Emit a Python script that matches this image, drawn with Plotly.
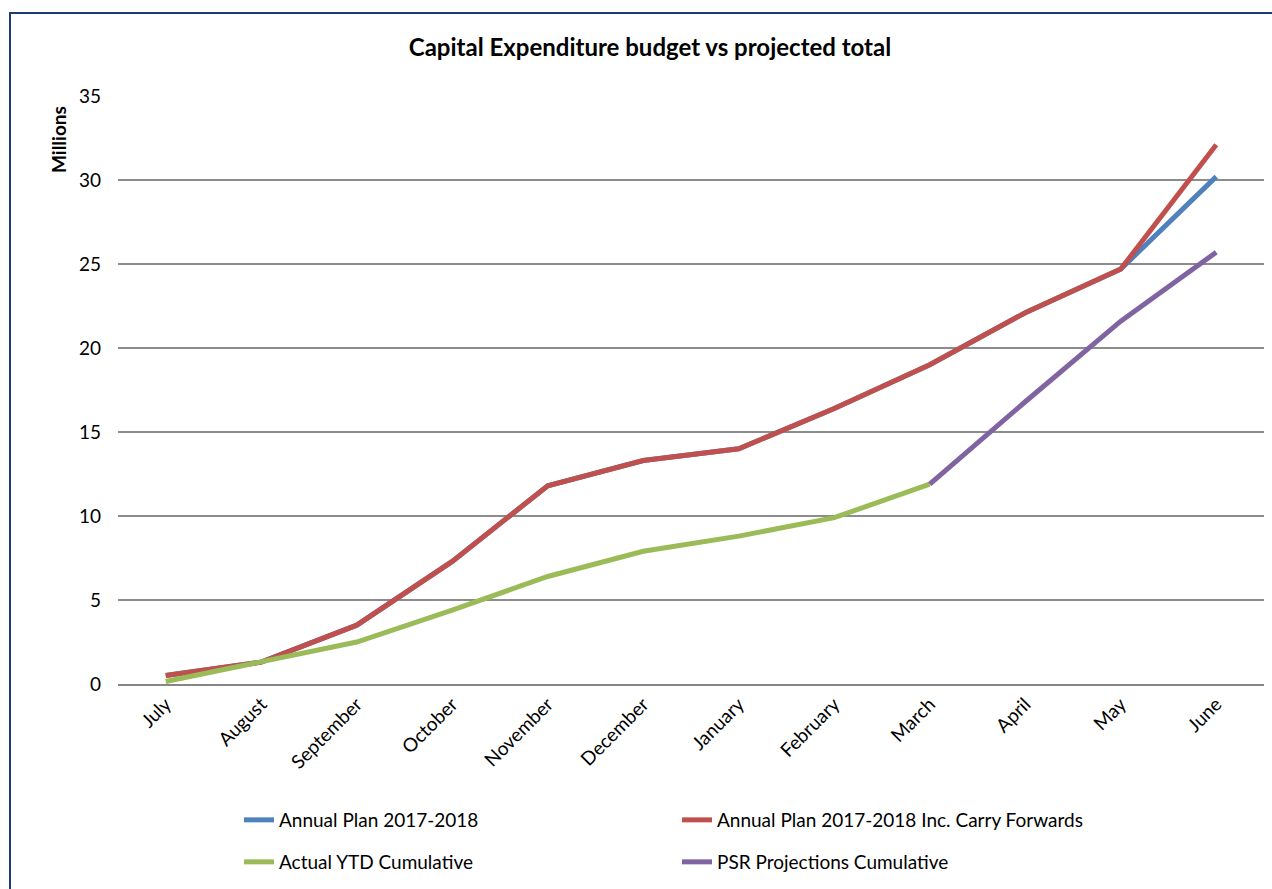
import plotly.graph_objects as go

months = ["July", "August", "September", "October", "November", "December",
          "January", "February", "March", "April", "May", "June"]
annual_plan = [0.5, 1.3, 3.5, 7.3, 11.8, 13.3, 14.0, 16.4, 19.0, 22.1, 24.7, 30.2]
annual_plan_cf = [0.5, 1.3, 3.5, 7.3, 11.8, 13.3, 14.0, 16.4, 19.0, 22.1, 24.7, 32.1]
actual_ytd = [0.15, 1.3, 2.5, 4.4, 6.4, 7.9, 8.8, 9.9, 11.9, None, None, None]
psr_proj = [None, None, None, None, None, None, None, None, 11.9, 16.8, 21.6, 25.7]

FONT = "Lato"
W, H = 1272, 889
L, R, T, B = 118, 8, 96, 205
PW, PH = W - L - R, H - T - B

def px_x(x):
    return (x - L) / PW

def px_y(y):
    return (H - B - y) / PH

fig = go.Figure()
fig.add_trace(go.Scatter(x=months, y=annual_plan, mode="lines", name="Annual Plan 2017-2018",
                         line=dict(color="#4F81BD", width=5), legend="legend"))
fig.add_trace(go.Scatter(x=months, y=annual_plan_cf, mode="lines",
                         name="Annual Plan 2017-2018 Inc. Carry Forwards",
                         line=dict(color="#C0504D", width=5), legend="legend"))
fig.add_trace(go.Scatter(x=months, y=actual_ytd, mode="lines", name="Actual YTD Cumulative",
                         line=dict(color="#9BBB59", width=5), legend="legend2"))
fig.add_trace(go.Scatter(x=months, y=psr_proj, mode="lines", name="PSR Projections Cumulative",
                         line=dict(color="#8064A2", width=5), legend="legend2"))

legend_common = dict(orientation="h", xanchor="left", yanchor="middle",
                     font=dict(family=FONT, size=19, color="#000000"),
                     entrywidth=393, entrywidthmode="pixels", bgcolor="rgba(0,0,0,0)",
                     itemclick=False, itemdoubleclick=False)

fig.update_layout(
    width=W, height=H,
    margin=dict(l=L, r=R, t=T, b=B),
    paper_bgcolor="white", plot_bgcolor="white",
    font=dict(family=FONT, size=19, color="#000000"),
    title=dict(text="<b>Capital Expenditure budget vs projected total</b>",
               x=650 / W, xref="container", xanchor="center",
               y=1 - 48 / H, yanchor="middle",
               font=dict(family=FONT, size=24, color="#000000")),
    showlegend=True,
    legend=dict(x=px_x(239), y=px_y(820), **legend_common),
    legend2=dict(x=px_x(239), y=px_y(862), **legend_common),
    xaxis=dict(type="category", categoryorder="array", categoryarray=months,
               tickangle=-45, showgrid=False, showline=True, linecolor="#868686", linewidth=1.5,
               ticks="", tickfont=dict(family=FONT, size=19, color="#000000"),
               range=[-0.5, 11.5], zeroline=False, fixedrange=True),
    yaxis=dict(range=[0, 35], dtick=5, showgrid=True, gridcolor="#8C8C8C", gridwidth=1.5,
               showline=False, zeroline=False, ticks="", ticklabelstandoff=16,
               tickfont=dict(family=FONT, size=19, color="#000000"), fixedrange=True),
    shapes=[dict(type="rect", xref="paper", yref="paper",
                 x0=px_x(10), x1=px_x(1290), y0=px_y(900), y1=px_y(13),
                 line=dict(color="#1F3B73", width=2), fillcolor="rgba(0,0,0,0)", layer="above")],
    annotations=[dict(text="<b>Millions</b>", xref="paper", yref="paper",
                      x=px_x(58), y=px_y(140), xanchor="center", yanchor="middle",
                      textangle=-90, showarrow=False,
                      font=dict(family=FONT, size=19, color="#000000"))],
)

fig.write_html("out.html")
